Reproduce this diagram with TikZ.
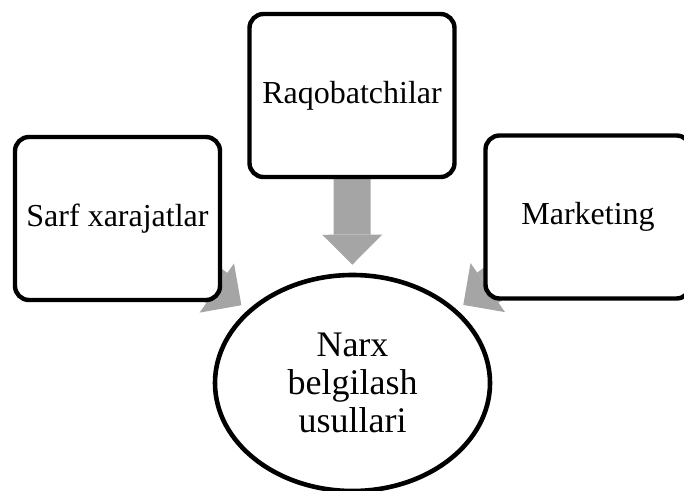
\documentclass[tikz,border=0pt]{standalone}
\usepackage{fontspec}
\setmainfont{Liberation Serif}
\usepackage{xcolor}
\usetikzlibrary{arrows.meta,backgrounds,shapes.geometric}
\definecolor{gris}{HTML}{A5A5A5}

\begin{document}
\begin{tikzpicture}[x=1pt,y=-1pt,
	caja/.style={draw,line width=4.4pt,rounded corners=14pt,fill=white,
		minimum width=205pt,minimum height=163pt,align=center,
		font=\fontsize{32}{38}\selectfont},
	elipse/.style={ellipse,draw,line width=4.6pt,fill=white,
		minimum width=275pt,minimum height=216pt,align=center,
		font=\fontsize{36}{38}\selectfont},
	flecha/.style={line width=37pt,gris,shorten >=8pt,
		-{Triangle[length=30pt,width=60pt,line width=0pt]}}]
		% marco de la figura
		\useasboundingbox (0,0) rectangle (684,490);
		\clip (0,0) rectangle (684,490);
		
		% las tres cajas y la elipse central
		\node[caja] (raqob) at (352,95.5) {Raqobatchilar};
		\node[caja] (sarf) at (117.5,218.5) {Sarf xarajatlar};
		\node[caja] (market) at (588,217) {Marketing};
		\node[elipse] (narx) at (352.5,383) {Narx\\belgilash\\usullari};
		
		% flechas grises por detrás
		\begin{scope}[on background layer]
			\foreach \src in {raqob,sarf,market} {
				\draw[flecha] (\src.center) -- (narx);
			}
		\end{scope}
	\end{tikzpicture}
\end{document}
